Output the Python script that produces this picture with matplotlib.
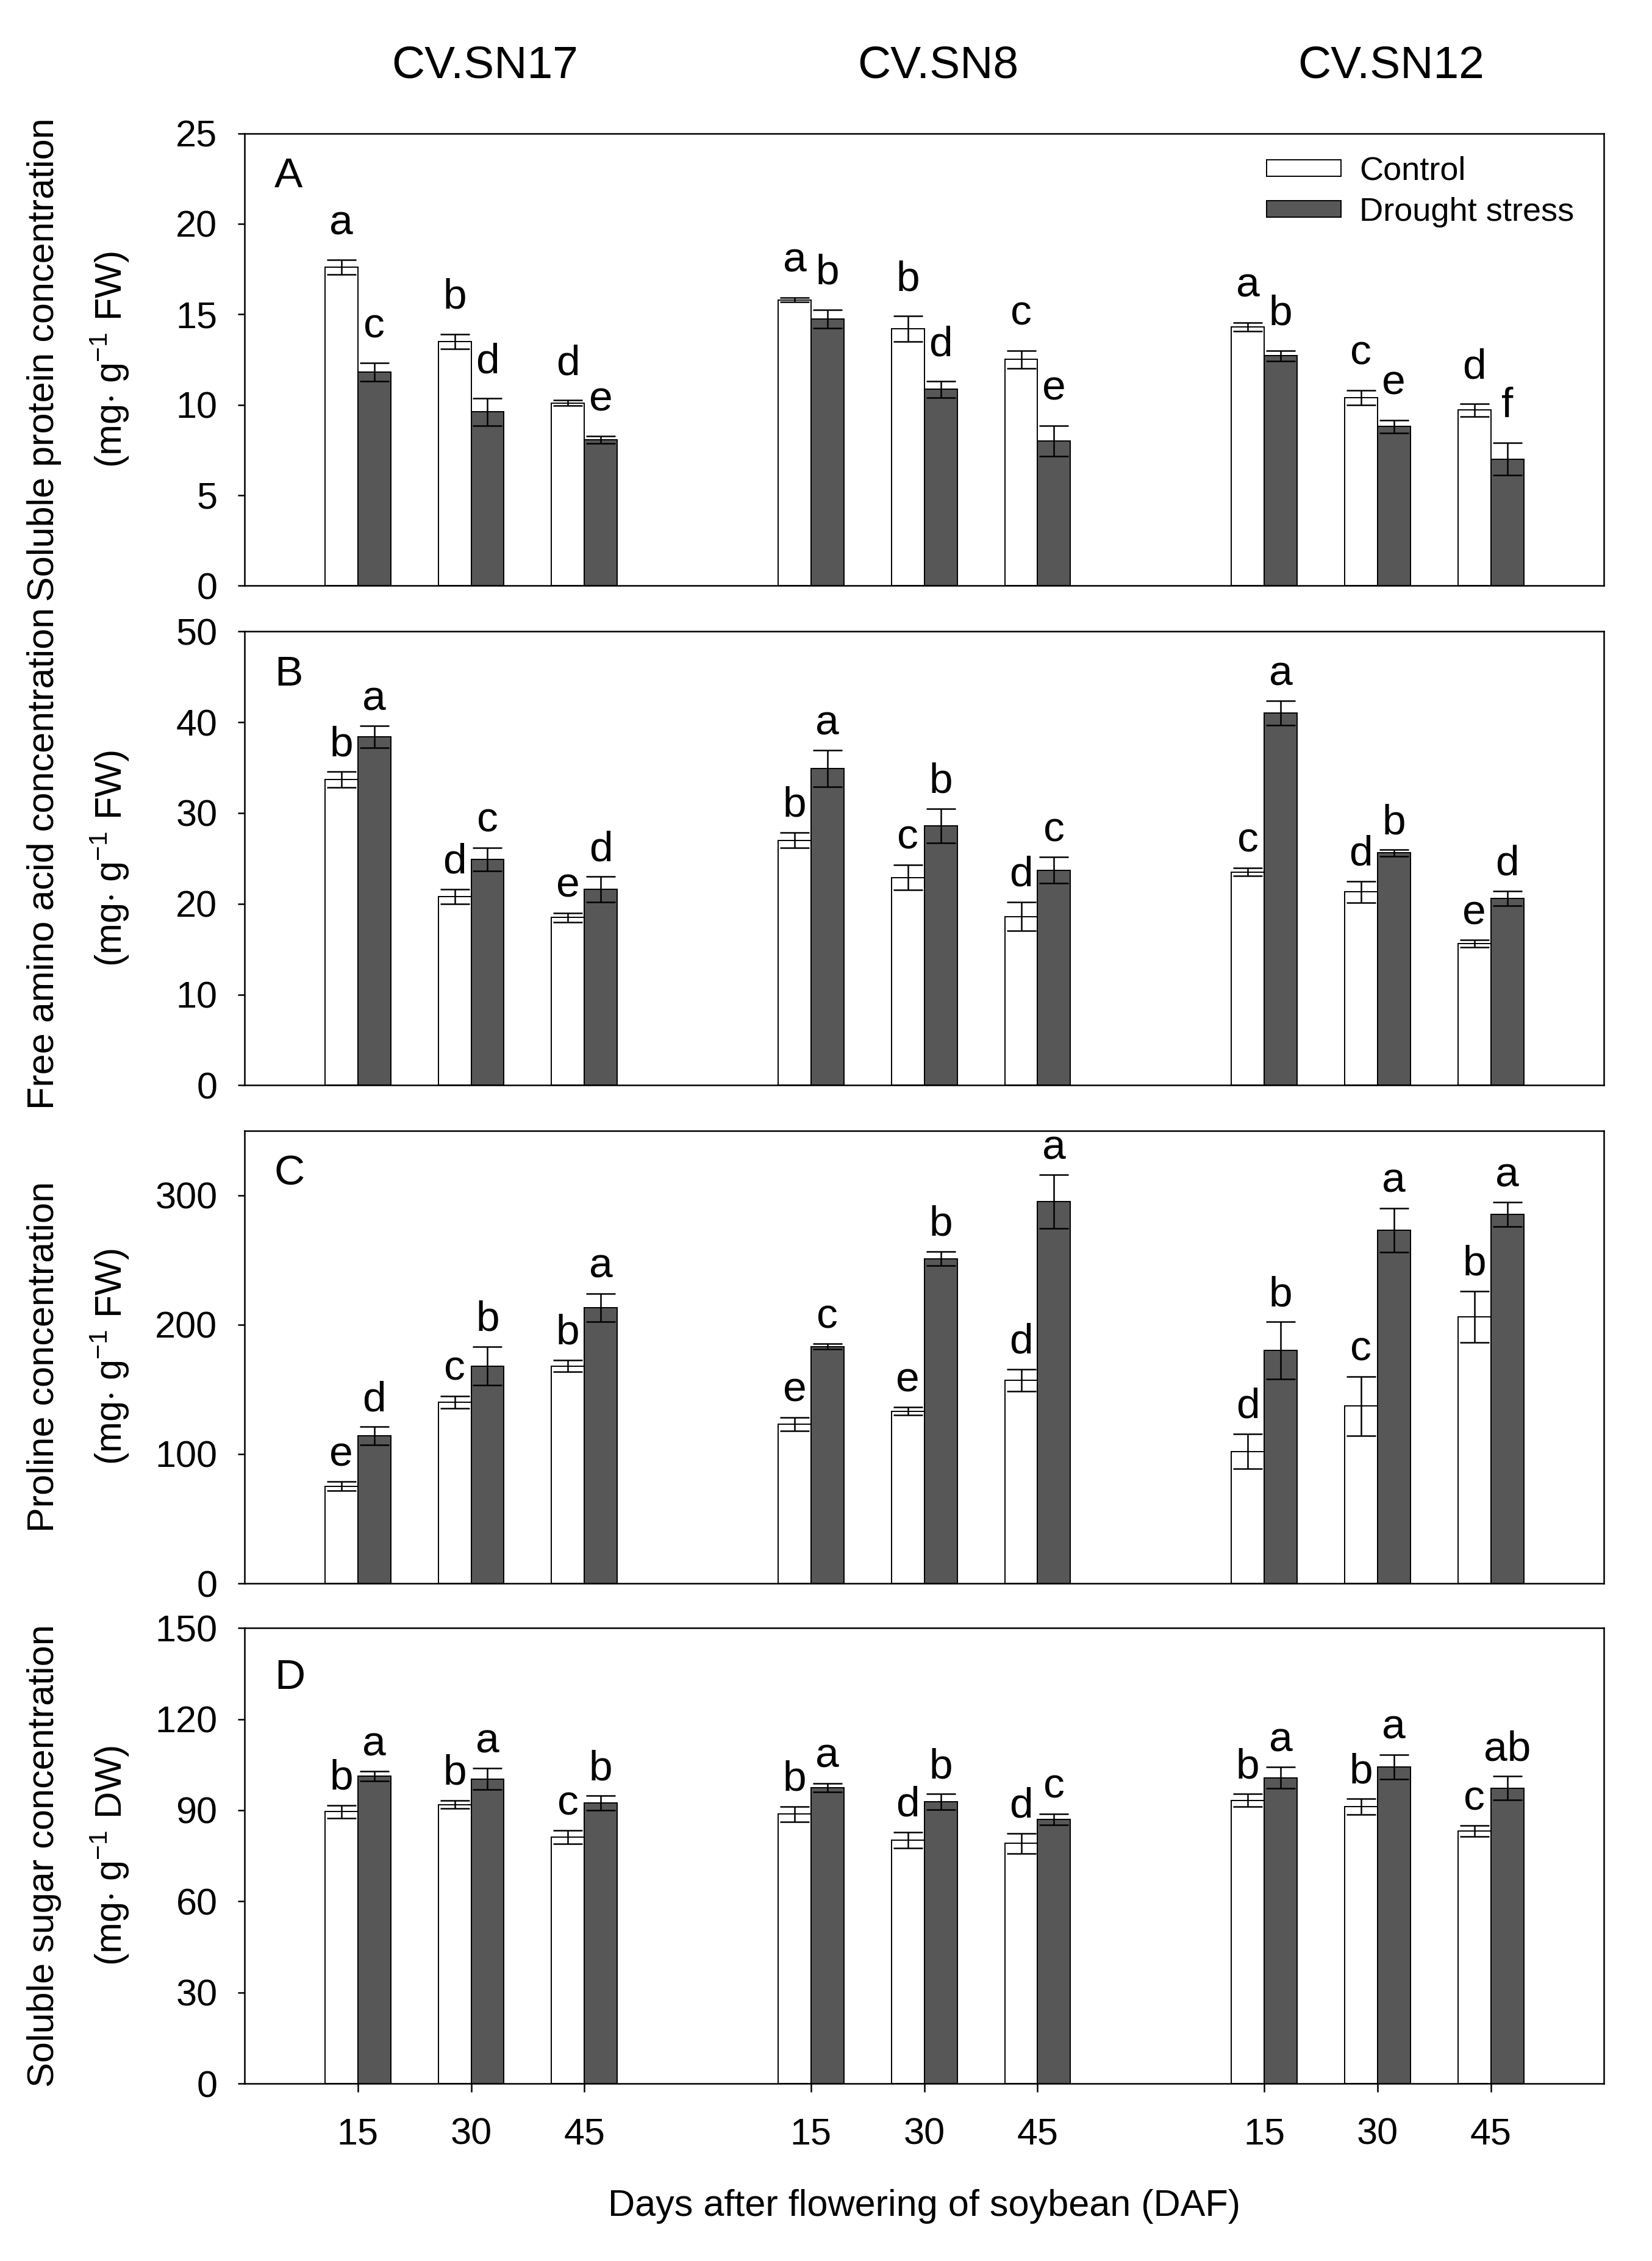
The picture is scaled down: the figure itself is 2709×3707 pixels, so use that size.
import numpy as np
import matplotlib
matplotlib.use("Agg")
import matplotlib.pyplot as plt
from matplotlib.patches import Patch

plt.rcParams['font.family'] = ['Liberation Sans', 'DejaVu Sans']
plt.rcParams['mathtext.fontset'] = 'custom'
plt.rcParams['mathtext.rm'] = 'Liberation Sans'

# data ------------------------------------------------------------
cultivars = ['CV.SN17', 'CV.SN8', 'CV.SN12']
days = ['15', '30', '45']

# A soluble protein
prot_ctrl = [17.6, 13.5, 10.1, 15.8, 14.2, 12.5, 14.3, 10.4, 9.7]
prot_ctrl_err = [0.4, 0.4, 0.15, 0.12, 0.7, 0.5, 0.25, 0.4, 0.35]
prot_drt = [11.8, 9.6, 8.05, 14.75, 10.85, 8.0, 12.7, 8.8, 7.0]
prot_drt_err = [0.5, 0.75, 0.2, 0.5, 0.45, 0.85, 0.3, 0.35, 0.9]
prot_ctrl_let = ['a', 'b', 'd', 'a', 'b', 'c', 'a', 'c', 'd']
prot_drt_let = ['c', 'd', 'e', 'b', 'd', 'e', 'b', 'e', 'f']

# B free amino acid
amino_ctrl = [33.7, 20.8, 18.5, 27.0, 22.9, 18.6, 23.5, 21.3, 15.6]
amino_ctrl_err = [0.85, 0.8, 0.5, 0.85, 1.4, 1.6, 0.45, 1.2, 0.4]
amino_drt = [38.4, 24.9, 21.6, 34.9, 28.6, 23.7, 41.0, 25.6, 20.6]
amino_drt_err = [1.2, 1.3, 1.4, 2.0, 1.9, 1.45, 1.35, 0.35, 0.8]
amino_ctrl_let = ['b', 'd', 'e', 'b', 'c', 'd', 'c', 'd', 'e']
amino_drt_let = ['a', 'c', 'd', 'a', 'b', 'c', 'a', 'b', 'd']

# C proline
prol_ctrl = [75, 140, 168, 123, 133, 157, 102, 137, 206]
prol_ctrl_err = [3.5, 4.8, 4.6, 5.3, 3, 8.6, 13.5, 23, 20]
prol_drt = [114, 168, 213, 183, 251, 295, 180, 273, 285]
prol_drt_err = [7, 15, 11, 2.2, 5.5, 20.7, 22, 17, 9.4]
prol_ctrl_let = ['e', 'c', 'b', 'e', 'e', 'd', 'd', 'c', 'b']
prol_drt_let = ['d', 'b', 'a', 'c', 'b', 'a', 'b', 'a', 'a']

# D soluble sugar
sugar_ctrl = [89.5, 91.9, 81.1, 88.7, 80.2, 79.1, 93.3, 91.2, 83.1]
sugar_ctrl_err = [2.2, 1.4, 2.2, 2.5, 2.6, 3.3, 2.1, 2.6, 1.8]
sugar_drt = [101.2, 100.3, 92.4, 97.5, 92.8, 87.0, 100.7, 104.3, 97.3]
sugar_drt_err = [1.6, 3.5, 2.4, 1.4, 2.6, 1.8, 3.5, 4.0, 3.9]
sugar_ctrl_let = ['b', 'b', 'c', 'b', 'd', 'd', 'b', 'b', 'c']
sugar_drt_let = ['a', 'a', 'b', 'a', 'b', 'c', 'a', 'a', 'ab']

panels = [
    ('A', 'Soluble protein concentration', 'FW', 25, 5,
     prot_ctrl, prot_ctrl_err, prot_drt, prot_drt_err, prot_ctrl_let, prot_drt_let),
    ('B', 'Free amino acid concentration', 'FW', 50, 10,
     amino_ctrl, amino_ctrl_err, amino_drt, amino_drt_err, amino_ctrl_let, amino_drt_let),
    ('C', 'Proline concentration', 'FW', 350, 100,
     prol_ctrl, prol_ctrl_err, prol_drt, prol_drt_err, prol_ctrl_let, prol_drt_let),
    ('D', 'Soluble sugar concentration', 'DW', 150, 30,
     sugar_ctrl, sugar_ctrl_err, sugar_drt, sugar_drt_err, sugar_ctrl_let, sugar_drt_let),
]

# layout ---------------------------------------------------------
x = np.array([g * 4 + d for g in range(3) for d in range(3)], dtype=float)
w = 0.29
dark = '#575757'
fs_tick = 44
fs_let = 50

fig = plt.figure(figsize=(27.09, 37.07), dpi=100)
fig.patch.set_facecolor('white')
boxes = [(0.741, 0.941), (0.520, 0.7207), (0.2997, 0.50), (0.0784, 0.28)]
left, right = 0.148, 0.971

axes = []
for i, p in enumerate(panels):
    (tag, name, basis, ymax, ystep, c, ce, d, de, cl, dl) = p
    b0, b1 = boxes[i]
    ax = fig.add_axes([left, b0, right - left, b1 - b0])
    axes.append(ax)
    ekw = dict(ecolor='black', elinewidth=1.8, capthick=1.8, zorder=3)
    ax.bar(x - w / 2, c, w, yerr=ce, color='white', edgecolor='black',
           linewidth=1.4, capsize=17, error_kw=ekw, label='Control', zorder=2)
    ax.bar(x + w / 2, d, w, yerr=de, color=dark, edgecolor='black',
           linewidth=1.4, capsize=17, error_kw=ekw, label='Drought stress', zorder=2)

    off = 28 if tag == 'A' else 12
    for xi, v, e, s in zip(x - w / 2, c, ce, cl):
        ax.annotate(s, (xi, v + e), xytext=(0, off), textcoords='offset pixels',
                    ha='center', va='bottom', fontsize=fs_let)
    for xi, v, e, s in zip(x + w / 2, d, de, dl):
        ax.annotate(s, (xi, v + e), xytext=(0, off), textcoords='offset pixels',
                    ha='center', va='bottom', fontsize=fs_let)

    ax.set_xlim(-1, 11)
    ax.set_ylim(0, ymax)
    ax.set_yticks(np.arange(0, ymax + 0.1, ystep))
    ax.tick_params(axis='y', direction='out', length=8, width=1.8,
                   pad=24, labelsize=fs_tick)
    for sp in ax.spines.values():
        sp.set_linewidth(1.8)

    ax.text(0.022, 0.905 if tag != 'D' else 0.89, tag, transform=ax.transAxes,
            ha='left', va='center', fontsize=50)
    ax.text(-0.1475, 0.5, name, transform=ax.transAxes, rotation=90,
            ha='center', va='center', fontsize=fs_tick)
    ax.text(-0.099, 0.5, r'(mg$\cdot$ g$^{-1}$ ' + basis + ')',
            transform=ax.transAxes, rotation=90,
            ha='center', va='center', fontsize=fs_tick)

    if tag == 'D':
        ax.set_xticks(x)
        ax.set_xticklabels(days * 3)
        ax.tick_params(axis='x', direction='out', length=10, width=1.8,
                       pad=30, labelsize=fs_tick)
    else:
        ax.set_xticks([])

# column titles
for g, name in enumerate(cultivars):
    axes[0].text(g * 4 + 1.12, 1.15, name, transform=axes[0].get_xaxis_transform(),
                 ha='center', va='center', fontsize=54)

axes[0].legend(handles=[Patch(facecolor='white', edgecolor='black', linewidth=1.4),
                        Patch(facecolor=dark, edgecolor='black', linewidth=1.4)],
               labels=['Control', 'Drought stress'],
               loc='upper right', bbox_to_anchor=(0.978, 0.95), frameon=False,
               fontsize=39, handlelength=2.25, handleheight=0.4,
               handletextpad=0.55, labelspacing=0.32, borderpad=0, borderaxespad=0)

fig.text((left + right) / 2, 0.0242, 'Days after flowering of soybean (DAF)',
         ha='center', va='center', fontsize=fs_tick)

fig.savefig('out.png', dpi=100, facecolor='white')
